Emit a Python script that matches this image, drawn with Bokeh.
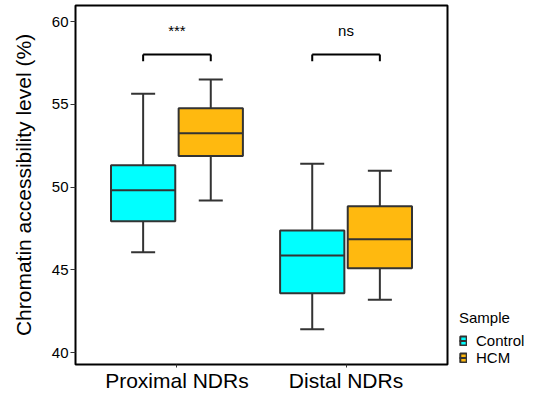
from bokeh.plotting import figure
from bokeh.models import (ColumnDataSource, FactorRange, Range1d, FixedTicker,
                          Legend, LegendItem)
from bokeh.transform import dodge
from bokeh.core.properties import value
from bokeh.embed import file_html
from bokeh.resources import INLINE

# ---- data ----
categories = ["Proximal NDRs", "Distal NDRs"]
samples = ["Control", "HCM"]

control_low = [46.06, 41.41]
control_q1 = [47.93, 43.58]
control_med = [49.81, 45.86]
control_q3 = [51.32, 47.37]
control_high = [55.63, 51.40]

hcm_low = [49.18, 43.18]
hcm_q1 = [51.88, 45.09]
hcm_med = [53.25, 46.85]
hcm_q3 = [54.76, 48.84]
hcm_high = [56.50, 50.98]

signif_labels = ["***", "ns"]
y_ticks = [40, 45, 50, 55, 60]

colors = {"Control": "#00FFFF", "HCM": "#FFB90F"}
FONT = "Liberation Sans"

p = figure(
    x_range=FactorRange(factors=categories, range_padding=0.1,
                        range_padding_units="absolute"),
    y_range=Range1d(39.275, 60.967),
    frame_width=372, frame_height=359,
    min_border_left=75, min_border_right=82,
    min_border_top=5, min_border_bottom=29,
    output_backend="svg", toolbar_location=None,
)

box_w = 0.38
cap_half = 0.071
offsets = {"Control": -0.2, "HCM": 0.2}
series = {
    "Control": dict(low=control_low, q1=control_q1, med=control_med,
                    q3=control_q3, high=control_high),
    "HCM": dict(low=hcm_low, q1=hcm_q1, med=hcm_med, q3=hcm_q3, high=hcm_high),
}

legend_items = []
for s in samples:
    src = ColumnDataSource(dict(cat=categories, **series[s]))
    off = offsets[s]
    xc = dodge("cat", off, range=p.x_range)
    p.segment(x0=xc, y0="low", x1=xc, y1="high", source=src,
              line_color="#333333", line_width=2)
    for col in ("low", "high"):
        p.segment(x0=dodge("cat", off - cap_half, range=p.x_range), y0=col,
                  x1=dodge("cat", off + cap_half, range=p.x_range), y1=col,
                  source=src, line_color="#333333", line_width=2)
    box = p.vbar(x=xc, width=box_w, bottom="q1", top="q3", source=src,
                 fill_color=colors[s], line_color="#333333", line_width=2)
    med = p.segment(x0=dodge("cat", off - box_w / 2, range=p.x_range), y0="med",
                    x1=dodge("cat", off + box_w / 2, range=p.x_range), y1="med",
                    source=src, line_color="#333333", line_width=2)
    legend_items.append(LegendItem(label=s, renderers=[box, med]))

# significance brackets
bracket_y = 58.0
tip_y = 57.6
label_y = 59.45
sig_src = ColumnDataSource(dict(cat=categories, sig=signif_labels,
                                by=[bracket_y] * 2, ty=[tip_y] * 2,
                                ly=[label_y] * 2))
xl = dodge("cat", -0.2, range=p.x_range)
xr = dodge("cat", 0.2, range=p.x_range)
p.segment(x0=xl, y0="by", x1=xr, y1="by", source=sig_src,
          line_color="black", line_width=2)
p.segment(x0=xl, y0="by", x1=xl, y1="ty", source=sig_src,
          line_color="black", line_width=2)
p.segment(x0=xr, y0="by", x1=xr, y1="ty", source=sig_src,
          line_color="black", line_width=2)
p.text(x="cat", y="ly", text="sig", source=sig_src, text_align="center",
       text_baseline="alphabetic", text_font=value(FONT),
       text_font_size="15px", text_color="black")

legend = Legend(items=legend_items, location=(12, -2),
                title="Sample", title_text_font=FONT, title_text_font_size="15px",
                title_text_font_style="normal", title_text_color="black",
                title_standoff=6,
                label_text_font=FONT, label_text_font_size="15px",
                label_text_color="black",
                glyph_width=8, glyph_height=11, label_standoff=9,
                label_height=17, spacing=0, padding=0, margin=0,
                border_line_color=None, background_fill_alpha=0)
p.add_layout(legend, "right")

# axes / styling
p.xgrid.visible = False
p.ygrid.visible = False
p.outline_line_color = "black"
p.outline_line_width = 2
p.outline_line_alpha = 1

p.yaxis.ticker = FixedTicker(ticks=y_ticks)
p.yaxis.minor_tick_line_color = None
for ax in (p.xaxis, p.yaxis):
    ax.axis_line_color = None
    ax.major_tick_in = 0
    ax.major_tick_line_color = "#333333"
    ax.major_tick_line_width = 1
    ax.major_label_text_font = FONT
    ax.major_label_text_color = "black"
p.yaxis.major_tick_out = 5
p.yaxis.major_label_standoff = 2
p.yaxis.major_label_text_font_size = "15px"
p.yaxis.axis_label = "Chromatin accessibility level (%)"
p.yaxis.axis_label_text_font = FONT
p.yaxis.axis_label_text_font_size = "21px"
p.yaxis.axis_label_text_font_style = "normal"
p.yaxis.axis_label_text_color = "black"
p.yaxis.axis_label_standoff = 14

p.xaxis.major_tick_out = 3
p.xaxis.major_label_standoff = 1
p.xaxis.major_label_text_font_size = "21px"

p.background_fill_color = "white"
p.border_fill_color = "white"

open("out.html", "w").write(file_html(p, INLINE))
